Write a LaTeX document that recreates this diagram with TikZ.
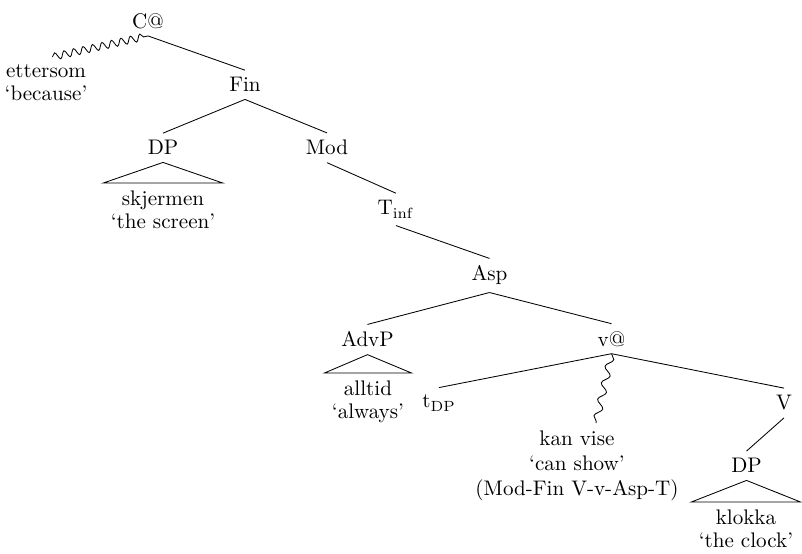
\documentclass[tikz,border=0pt]{standalone}
\usetikzlibrary{decorations.pathmorphing}
\begin{document}
\begin{tikzpicture}[cat/.style={anchor=base},
  leaf/.style={anchor=north,align=center,font=\fontsize{10}{11}\selectfont},
  gloss/.style={anchor=north,align=center},
  wavy/.style={decorate,decoration={snake,amplitude=1.7pt,segment length=#1}},wavy/.default=4.6pt]
\useasboundingbox (0,0) rectangle (13.367,-9.217);
% labels
\node[cat](c) at (2.467,-0.467){C@};
\node[cat](fin) at (4.083,-1.533){Fin};
\node[cat](dpa) at (2.717,-2.583){DP};
\node[cat](mod) at (5.45,-2.583){Mod};
\node[cat](tinf) at (6.6,-3.583){T$_{\mathrm{inf}}$};
\node[cat](asp) at (8.158,-4.683){Asp};
\node[cat](advp) at (6.125,-5.783){AdvP};
\node[cat](vat) at (10.192,-5.767){v@};
\node[cat](tdp) at (7.317,-6.8){t$_{\mathrm{DP}}$};
\node[cat](vv) at (13.067,-6.833){V};
\node[cat](dpb) at (12.442,-7.883){DP};
\node[leaf](ett) at (0.767,-0.95){ettersom\\`because'};
\node[leaf](skj) at (2.717,-3.05){skjermen\\`the screen'};
\node[leaf](all) at (6.133,-6.217){alltid\\`always'};
\node[gloss](kan) at (9.617,-7.05){kan vise\\`can show'\\(Mod-Fin V-v-Asp-T)};
\node[leaf](klo) at (12.433,-8.367){klokka\\`the clock'};
% branches
\draw[wavy]([xshift=3pt]ett.north)--(c.south);
\draw(c.south)--(fin.north);
\draw(fin.south)--(dpa.north); \draw(fin.south)--(mod.north);
\draw(dpa.south)--(skj.north west)--(skj.north east)--cycle;
\draw(mod.south)--(tinf.north);
\draw(tinf.south)--(asp.north);
\draw(asp.south)--(advp.north); \draw(asp.south)--(vat.north);
\draw(advp.south)--(all.north west)--(all.north east)--cycle;
\draw(vat.south)--(tdp.north); \draw(vat.south)--(vv.north);
\draw[wavy=8pt](vat.south)--([xshift=9pt]kan.north);
\draw(vv.south)--(dpb.north);
\draw(dpb.south)--(klo.north west)--(klo.north east)--cycle;
\end{tikzpicture}
\end{document}
